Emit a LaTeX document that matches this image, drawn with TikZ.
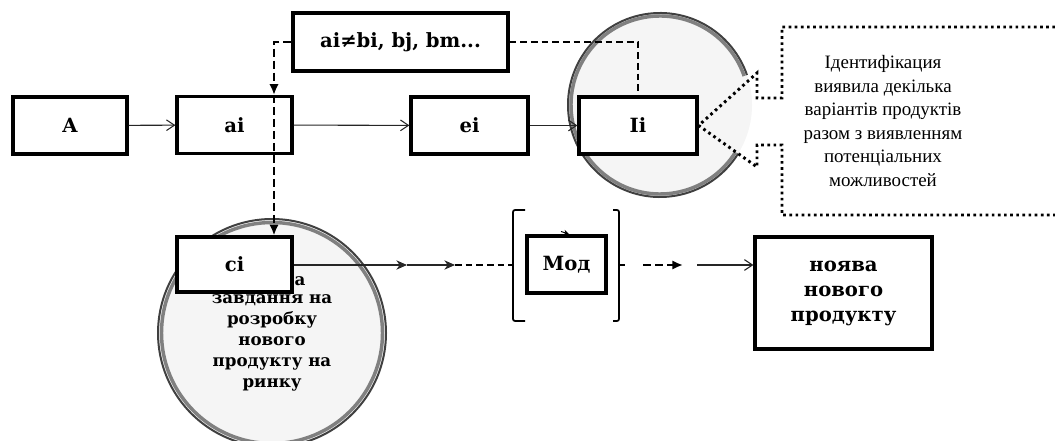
\documentclass[tikz,border=0pt]{standalone}
\usepackage{fontspec}
\setmainfont{Liberation Serif}
\newfontfamily\bserif{DejaVu Serif}
\usetikzlibrary{arrows.meta,calc}
\begin{document}
\begin{tikzpicture}[x=0.75pt,y=-0.75pt,
  box/.style={draw=black,line width=2.4pt,fill=white,inner sep=0pt,align=center,
    font=\bserif\bfseries\fontsize{14.7pt}{18.75pt}\selectfont},
  flow/.style={line width=0.8pt,draw=black!85,-{Straight Barb[length=6pt,width=8pt]}},
  sflow/.style={line width=0.8pt,draw=black!85,-{Stealth[length=8pt,width=7pt,inset=2.5pt]}},
  dflow/.style={line width=1.7pt,dash pattern=on 6pt off 3pt,-{Latex[length=8pt,width=7pt]}},
  dline/.style={line width=1.3pt,dash pattern=on 5pt off 3pt},
  dotline/.style={line width=2.2pt,dash pattern=on 2pt off 2.6pt},
  ringout/.style={line width=1.5pt,draw=black!75},
  ringin/.style={line width=2.6pt,draw=black!50},
  brk/.style={line width=1.3pt,rounded corners=1.5pt},
  ctext/.style={align=center,font=\bserif\bfseries\fontsize{12.5pt}{15.75pt}\selectfont},
]
\useasboundingbox (0,0) rectangle (1055,441);
% circle around Ii (open on the right)
\fill[black!4] (660,105) circle (92);
\draw[ringin] ($(660,105)+(32:89)$) arc[start angle=32,end angle=341,radius=89];
\draw[ringout] ($(660,105)+(32:92)$) arc[start angle=32,end angle=341,radius=92];
% circle around ci
\fill[black!4] (272,333) circle (114);
\draw[ringin] (272,333) circle (110.5);
\draw[ringout] (272,333) circle (114);
\node[ctext] (cpart) at (300,281) {а};
\node[ctext] (ctxt) at (272,343) {завдання на\\розробку\\нового\\продукту на\\ринку};
% boxes
\node[box,minimum width=85.5pt,minimum height=42.75pt] (A) at (70,125.5) {A};
\node[box,minimum width=86.25pt,minimum height=42.75pt] (ai) at (234.5,125) {ai};
\node[box,minimum width=87.75pt,minimum height=42.75pt] (ei) at (469.5,125.5) {ei};
\node[box,minimum width=88.5pt,minimum height=42.75pt] (Ii) at (638,125.5) {Ii};
\node[box,minimum width=161.25pt,minimum height=43.5pt] (bi) at (400.5,42) {ai≠bi, bj, bm...};
\node[box,minimum width=86.25pt,minimum height=41.25pt] (ci) at (234.5,264.5) {ci};
\node[box,minimum width=59.25pt,minimum height=42.75pt] (mod) at (566.5,264.5) {Мод};
\node[box,minimum width=132.75pt,minimum height=84pt] (nov) at (843.5,293) {ноява\\нового\\продукту};
% callout
\draw[dotline] (1055,27) -- (782,27) -- (782,98) -- (757,98) -- (757,73) -- (Ii.east)
  -- (757,167) -- (757,145) -- (782,145) -- (782,215) -- (1055,215);
\node[align=center,font=\fontsize{14.2pt}{17.6pt}\selectfont] (note) at (883,121)
  {Ідентифікация\\виявила декілька\\варіантів продуктів\\разом з виявленням\\потенціальних\\можливостей};
% connectors
\draw[flow] (A) -- (ai);
\draw[flow] (ai) -- (ei);
\draw[flow] (ei) -- (Ii);
\coordinate (dv) at (274,43);
\draw[dflow] (bi.west) -- (bi.west -| dv) -- (dv |- ai.north);
\draw[dflow] (dv |- ai.north) -- (dv |- ci.north);
\draw[dline] (bi.east) -| (Ii.north);
% lower chain
\coordinate (c1) at (407,265);
\coordinate (c2) at (455,265);
\coordinate (lb) at (513,265);
\coordinate (rb) at (619,265);
\coordinate (d1) at (643,265);
\coordinate (d2) at (683,265);
\coordinate (s1) at (697,265);
\draw[sflow] (ci.east |- c1) -- (c1);
\draw[sflow] (c1) -- (c2);
\draw[dline,line width=1.7pt] (c2) -- (lb);
\draw[brk] (525,210) -- (513,210) -- (513,321) -- (525,321);
\draw[brk] (613,210) -- (619,210) -- (619,321) -- (613,321);
\draw[brk] (rb) -- ++(6,0);
\draw[dflow] (d1) -- (d2);
\draw[flow] (s1) -- (s1 -| nov.west);
\draw[line width=0.7pt,-{Stealth[length=4pt,width=4pt]}] (561,231.5) -- (569,234);
\end{tikzpicture}
\end{document}
